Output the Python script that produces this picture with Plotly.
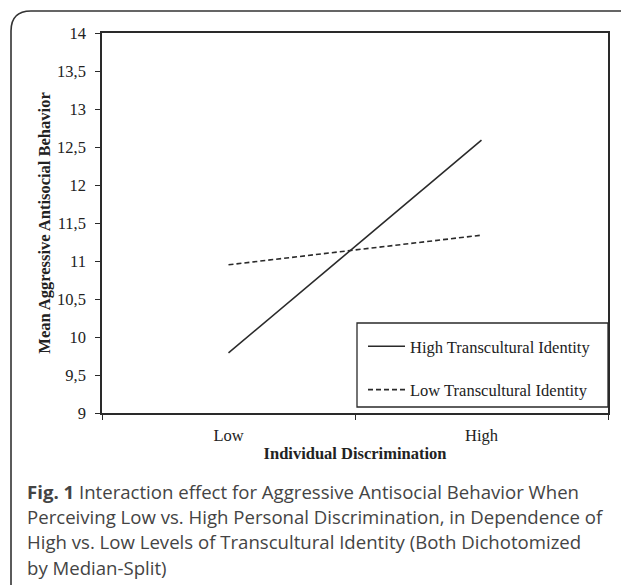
import plotly.graph_objects as go

categories = ["Low", "High"]
high_identity = [9.79, 12.59]
low_identity = [10.95, 11.34]
series_names = ["High Transcultural Identity", "Low Transcultural Identity"]
y_ticks = [9, 9.5, 10, 10.5, 11, 11.5, 12, 12.5, 13, 13.5, 14]
y_tick_labels = ["9", "9,5", "10", "10,5", "11", "11,5", "12", "12,5", "13", "13,5", "14"]
caption_lines = [
    "<b>Fig. 1</b> Interaction effect for Aggressive Antisocial Behavior When",
    "Perceiving Low vs. High Personal Discrimination, in Dependence of",
    "High vs. Low Levels of Transcultural Identity (Both Dichotomized",
    "by Median-Split)",
]

W, H = 621, 585
L, R, T, B = 102, 13, 33, 172
PW, PH = W - L - R, H - T - B


def px(x):
    return (x - L) / PW


def py(y):
    return (H - B - y) / PH


serif = "Liberation Serif, Times New Roman, serif"
ink = "#2a2a2a"
sfont = 16.5

fig = go.Figure()
fig.add_trace(go.Scatter(x=categories, y=high_identity, mode="lines", name=series_names[0],
                         legendgroup="a", line=dict(color=ink, width=1.6)))
fig.add_trace(go.Scatter(x=categories, y=low_identity, mode="lines", name=series_names[1],
                         legendgroup="b", line=dict(color=ink, width=1.6, dash="5px,3px")))

# outer rounded frame
r = 20
x0, y0 = 11, 11
path = (f"M {px(x0)},{py(H + 5)} L {px(x0)},{py(y0 + r)} "
        f"Q {px(x0)},{py(y0)} {px(x0 + r)},{py(y0)} L {px(W + 10)},{py(y0)}")
shapes = [
    dict(type="path", xref="paper", yref="paper", path=path,
         line=dict(color="#333333", width=1.6)),
    dict(type="rect", xref="paper", yref="paper", x0=px(357), x1=1, y0=py(407), y1=py(323),
         line=dict(color=ink, width=1.3), fillcolor="rgba(0,0,0,0)"),
]

annotations = []
caption_y = [491, 516, 541, 567]
for text, yy in zip(caption_lines, caption_y):
    annotations.append(dict(text=text, xref="paper", yref="paper", x=px(25), y=py(yy),
                            xanchor="left", yanchor="middle", showarrow=False,
                            font=dict(family="Open Sans, sans-serif", size=18.6, color="#444444")))

fig.update_layout(
    width=W, height=H,
    margin=dict(l=L, r=R, t=T, b=B),
    paper_bgcolor="white", plot_bgcolor="white",
    shapes=shapes, annotations=annotations,
    showlegend=True,
    legend=dict(x=px(363), y=py(329), xanchor="left", yanchor="top",
                bgcolor="rgba(0,0,0,0)", borderwidth=0, itemwidth=37,
                traceorder="grouped", tracegroupgap=19,
                font=dict(family=serif, size=sfont, color="#222")),
    xaxis=dict(type="category", range=[-0.5, 1.5], tickson="boundaries",
               ticks="outside", ticklen=5, tickcolor=ink, ticklabelstandoff=6,
               showline=True, linecolor=ink, linewidth=1.6, mirror=True,
               showgrid=False, zeroline=False,
               tickfont=dict(family=serif, size=sfont, color="#222"),
               title=dict(text="<b>Individual Discrimination</b>", standoff=4,
                          font=dict(family=serif, size=sfont, color="#222"))),
    yaxis=dict(range=[9, 14], tickvals=y_ticks, ticktext=y_tick_labels,
               ticks="outside", ticklen=5, tickcolor=ink, ticklabelstandoff=6,
               showline=True, linecolor=ink, linewidth=1.6, mirror=True,
               showgrid=False, zeroline=False,
               tickfont=dict(family=serif, size=sfont, color="#222"),
               title=dict(text="<b>Mean Aggressive Antisocial Behavior</b>", standoff=2,
                          font=dict(family=serif, size=sfont, color="#222"))),
)

fig.write_html("out.html", config={"displayModeBar": False},
               post_script="document.body.style.margin='0';")
